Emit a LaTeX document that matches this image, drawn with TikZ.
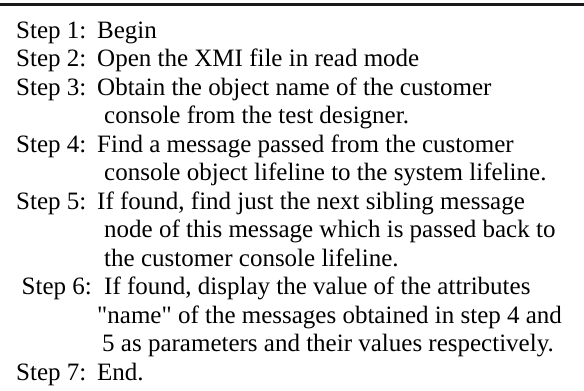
\documentclass[tikz,border=0pt]{standalone}
\usepackage{fontspec}
\setmainfont{Liberation Serif}[Ligatures=TeXOff]
\def\ls{28.5}
\def\yo{38}

\begin{document}
\begin{tikzpicture}[x=1pt,y=1pt,
	steptext/.style={anchor=base west,inner sep=0pt,
		font=\fontsize{25}{28.5}\selectfont}]
\useasboundingbox (0,0) rectangle (584,-391);
\draw[line width=2.2pt,color=black!90] (0,-4.5) coordinate (rl) -- (584,-4.5) coordinate (rr);
% step labels
\foreach \n/\l/\x in {1/0/16,2/1/16,3/2/16,4/4/16,5/6/16,6/9/21.5,7/12/16}{
	\node[steptext] (s\n) at (\x,{-\yo-\l*\ls}) {Step \n:};
}
% step texts
\node[steptext] (t1) at (97,{-\yo-0*\ls}) {Begin};
\node[steptext] (t2) at (97,{-\yo-1*\ls}) {Open the XMI file in read mode};
\node[steptext] (t3) at (97,{-\yo-2*\ls}) {Obtain the object name of the customer};
\node[steptext] (t4) at (104,{-\yo-3*\ls}) {console from the test designer.};
\node[steptext] (t5) at (97,{-\yo-4*\ls}) {Find a message passed from the customer};
\node[steptext] (t6) at (104,{-\yo-5*\ls}) {console object lifeline to the system lifeline.};
\node[steptext] (t7) at (97,{-\yo-6*\ls}) {If found, find just the next sibling message};
\node[steptext] (t8) at (104,{-\yo-7*\ls}) {node of this message which is passed back to};
\node[steptext] (t9) at (104,{-\yo-8*\ls}) {the customer console lifeline.};
\node[steptext] (t10) at (104,{-\yo-9*\ls}) {If found, display the value of the attributes};
\node[steptext] (t11) at (97,{-\yo-10*\ls}) {"name" of the messages obtained in step 4 and};
\node[steptext] (t12) at (102,{-\yo-11*\ls}) {5 as parameters and their values respectively.};
\node[steptext] (t13) at (97,{-\yo-12*\ls}) {End.};
\end{tikzpicture}
\end{document}
